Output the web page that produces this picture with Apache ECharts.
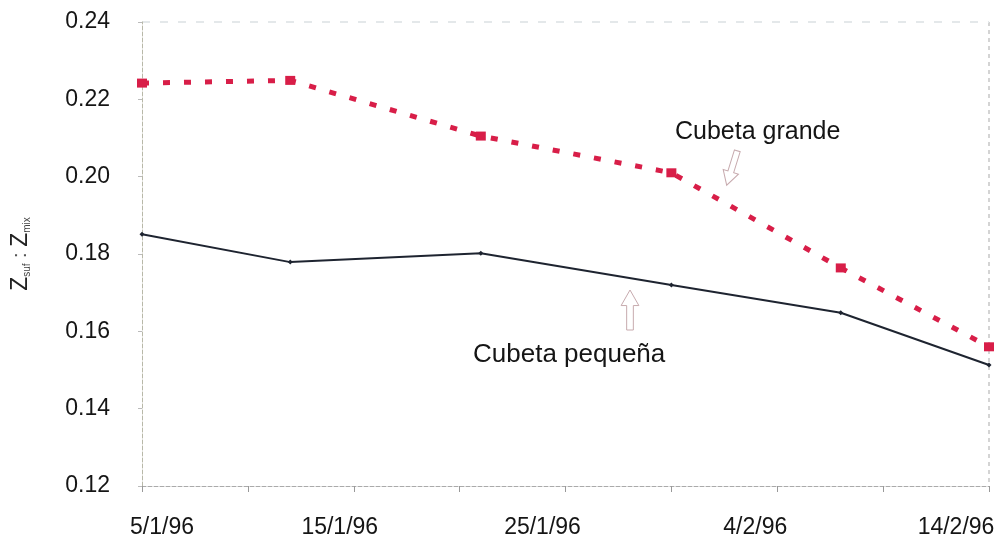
<!DOCTYPE html>
<html>
<head>
<meta charset="utf-8">
<script src="https://cdn.jsdelivr.net/npm/echarts@6/dist/echarts.min.js"></script>
<style>
html,body{margin:0;padding:0;background:#fff;}
#chart{width:1006px;height:550px;}
</style>
</head>
<body>
<div id="chart"></div>
<script>
// ---- data ----
const sampleDates = ['5/1/96', '12/1/96', '21/1/96', '30/1/96', '7/2/96', '14/2/96'];
const cubetaGrande = [0.2242, 0.2249, 0.2105, 0.2010, 0.1764, 0.1560];
const cubetaPequena = [0.1851, 0.1779, 0.1802, 0.1720, 0.1648, 0.1513];
const xTickLabels = ['5/1/96', '15/1/96', '25/1/96', '4/2/96', '14/2/96'];
const yTickLabels = ['0.12', '0.14', '0.16', '0.18', '0.20', '0.22', '0.24'];
const seriesNames = ['Cubeta grande', 'Cubeta pequeña'];

function dayOffset(s) {
  const p = s.split('/').map(Number);
  const d = Date.UTC(1900 + p[2], p[1] - 1, p[0]);
  const b = Date.UTC(1996, 0, 5);
  return Math.round((d - b) / 86400000);
}
const xs = sampleDates.map(dayOffset);
const grandeData = xs.map((x, i) => [x, cubetaGrande[i]]);
const pequenaData = xs.map((x, i) => [x, cubetaPequena[i]]);

const labelShift = ['l0', 'l1', 'l2', 'l3', 'l4'];
const chart = echarts.init(document.getElementById('chart'));
const font = '"Liberation Sans", Arial, sans-serif';
const txt = '#151515';

function arrowShape(cx, cy, rot, h) {
  const k = h / 36;
  const pts = [[-3,-18],[3,-18],[3,4],[8,4],[0,18],[-8,4],[-3,4]].map(p => [p[0] * k, p[1] * k]);
  return {
    type: 'polygon',
    x: cx, y: cy, rotation: rot,
    shape: { points: pts },
    style: { fill: 'none', stroke: '#c7aaae', lineWidth: 1 },
    z: 10
  };
}
function lbl(extra) {
  return Object.assign({ fontFamily: font, fontSize: 23, color: txt }, extra);
}

chart.setOption({
  backgroundColor: '#fff',
  animation: false,
  grid: { left: 142, right: 17, top: 22, bottom: 64, containLabel: false },
  xAxis: {
    type: 'value', min: 0, max: 40, interval: 10,
    axisLine: { show: true, lineStyle: { color: '#aaa', type: 'dashed', width: 1 } },
    axisTick: { show: true, length: 6, inside: false, lineStyle: { color: '#999' } },
    minorTick: { show: true, splitNumber: 2, length: 6, lineStyle: { color: '#999' } },
    splitLine: { show: false },
    axisLabel: {
      margin: 30,
      fontFamily: font, fontSize: 23, color: txt,
      formatter: function (v) {
        const i = Math.round(v / 10);
        return '{' + labelShift[i] + '|' + xTickLabels[i] + '}';
      },
      rich: {
        l0: lbl({ padding: [0, 0, 0, 40] }),
        l1: lbl({ padding: [0, 28, 0, 0] }),
        l2: lbl({ padding: [0, 46, 0, 0] }),
        l3: lbl({ padding: [0, 44, 0, 0] }),
        l4: lbl({ padding: [0, 66, 0, 0] })
      }
    }
  },
  yAxis: {
    type: 'value', min: 0.12, max: 0.24, interval: 0.02,
    axisLine: { show: true, lineStyle: { color: '#b8b8a8', type: 'dashed', width: 1 } },
    axisTick: { show: true, length: 4, lineStyle: { color: '#bbb' } },
    splitLine: { show: false },
    axisLabel: {
      margin: 32, fontFamily: font, fontSize: 23, color: txt,
      formatter: function (v) { return yTickLabels[Math.round((v - 0.12) / 0.02)]; }
    },
    name: '{z|Z}{s|suf}{c| : }{z|Z}{s|mix}',
    nameLocation: 'middle', nameRotate: 90, nameGap: 110,
    nameTextStyle: {
      rich: {
        z: { fontFamily: font, fontSize: 23, color: '#222' },
        s: { fontFamily: font, fontSize: 10, color: '#444', verticalAlign: 'bottom', padding: [10, 0, 0, 0] },
        c: { fontFamily: font, fontSize: 20, color: '#555' }
      }
    }
  },
  series: [
    {
      name: seriesNames[0], type: 'line', data: grandeData,
      symbol: 'rect', symbolSize: [10, 9],
      itemStyle: { color: '#d81e48' },
      lineStyle: { color: '#d81e48', width: 5, type: [7, 14] },
      z: 3
    },
    {
      name: seriesNames[1], type: 'line', data: pequenaData,
      symbol: 'diamond', symbolSize: 5,
      itemStyle: { color: '#1e2430' },
      lineStyle: { color: '#1e2430', width: 2 },
      z: 4
    }
  ],
  graphic: [
    { type: 'line', shape: { x1: 989, y1: 22, x2: 989, y2: 486 }, style: { stroke: '#aaa', lineDash: [4, 4], lineWidth: 1 } },
    { type: 'line', shape: { x1: 142, y1: 22, x2: 989, y2: 22 }, style: { stroke: '#e4e8ea', lineDash: [8, 10], lineWidth: 2 } },
    { type: 'text', x: 675, y: 132, style: { text: seriesNames[0], font: '25px ' + font, fill: txt, textVerticalAlign: 'middle' } },
    { type: 'text', x: 473, y: 355, style: { text: seriesNames[1], font: '26px ' + font, fill: txt, textVerticalAlign: 'middle' } },
    arrowShape(732, 168, -0.3, 36),
    arrowShape(630, 310, Math.PI, 40)
  ]
});
</script>
</body>
</html>
